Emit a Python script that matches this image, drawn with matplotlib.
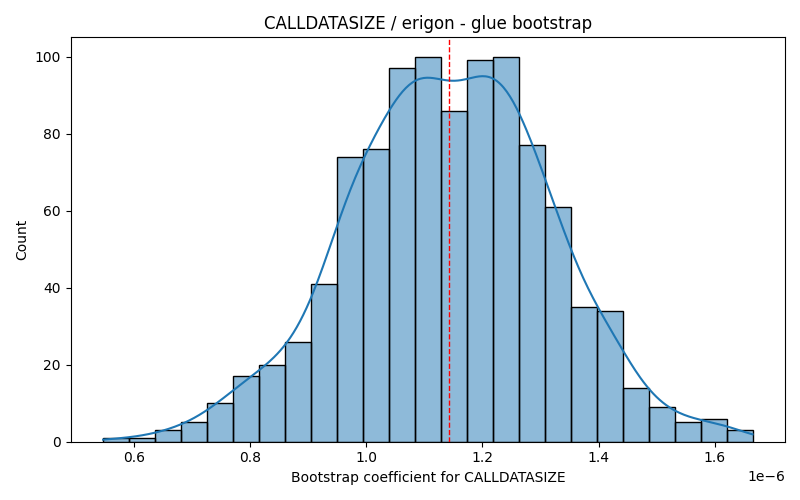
import numpy as np
import matplotlib
matplotlib.use("Agg")
import matplotlib.pyplot as plt

bin_start = 0.547e-6
bin_end = 1.665e-6
counts = [1, 1, 3, 5, 10, 17, 20, 26, 41, 74, 76, 97, 100, 86, 99, 100, 77, 61, 35, 34, 14, 9, 5, 6, 3]
mean_value = 1.142e-6

n_bins = len(counts)
edges = np.linspace(bin_start, bin_end, n_bins + 1)
width = edges[1] - edges[0]
centers = (edges[:-1] + edges[1:]) / 2
w = np.array(counts, float)

fig, ax = plt.subplots(figsize=(8, 5), dpi=100)
ax.bar(edges[:-1], counts, width=width, align="edge", color="#1f77b4", alpha=0.5,
       edgecolor="none")
ax.bar(edges[:-1], counts, width=width, align="edge", fill=False, edgecolor="black", linewidth=1)

# weighted gaussian KDE scaled to counts
N = w.sum()
mu = np.sum(w * centers) / N
sd = np.sqrt(np.sum(w * (centers - mu) ** 2) / N)
bw = sd * N ** (-1 / 5)
xs = np.linspace(edges[0], edges[-1], 400)
dens = (w[None, :] * np.exp(-0.5 * ((xs[:, None] - centers[None, :]) / bw) ** 2)).sum(1) / (N * bw * np.sqrt(2 * np.pi))
ax.plot(xs, dens * N * width, color="#1f77b4", linewidth=1.5)

ax.axvline(mean_value, color="red", linestyle="--", linewidth=1)
ax.set_title("CALLDATASIZE / erigon - glue bootstrap")
ax.set_xlabel("Bootstrap coefficient for CALLDATASIZE")
ax.set_ylabel("Count")
fig.tight_layout()
fig.savefig("out.png")
